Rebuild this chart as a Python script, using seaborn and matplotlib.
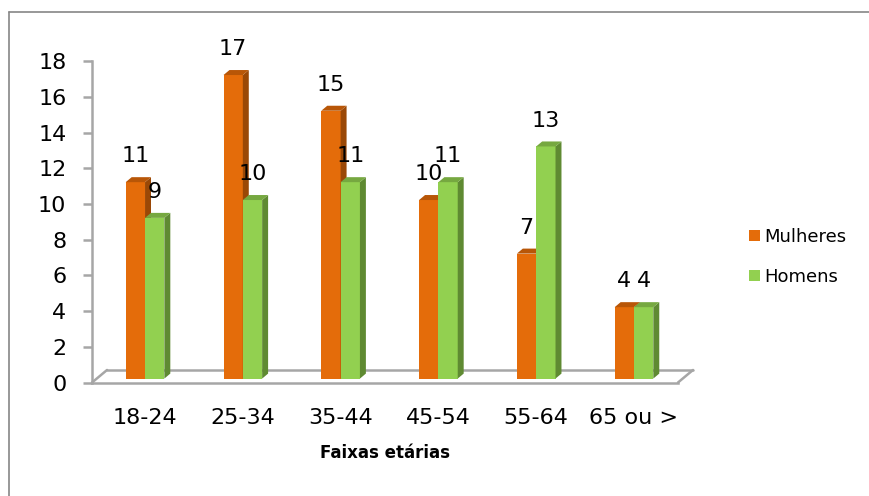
import matplotlib
matplotlib.use("Agg")
import matplotlib.pyplot as plt
from matplotlib.patches import Polygon
from matplotlib.lines import Line2D
import pandas as pd
import seaborn as sns

# === Data ===
age_groups = ["18-24", "25-34", "35-44", "45-54", "55-64", "65 ou >"]
mulheres = [11, 17, 15, 10, 7, 4]
homens = [9, 10, 11, 11, 13, 4]
series_names = ["Mulheres", "Homens"]
y_ticks = list(range(0, 19, 2))

# === Style ===
ORANGE = "#E46C0A"
GREEN = "#92D050"
SIDE = {0: "#9A4806", 1: "#5F8A32"}
TOP = {0: "#B85607", 1: "#76A840"}
AXIS_GRAY = "#A6A6A6"
LIFT = 0.22          # bars sit a little behind the front floor edge
DX, DY = 0.061, 0.28  # pseudo-3D depth of bars (data units)
FX, FY = 0.0256, 0.039  # floor depth (axes fraction)

df = pd.DataFrame({
    "faixa": age_groups * 2,
    "valor": mulheres + homens,
    "sexo": [series_names[0]] * len(age_groups) + [series_names[1]] * len(age_groups),
})

sns.set_theme(style="white")
plt.rcParams.update({
    "font.family": ["DejaVu Sans"],
    "text.color": "black",
    "axes.labelcolor": "black",
    "xtick.color": "black",
    "ytick.color": "black",
})

fig = plt.figure(figsize=(8.69, 4.96), dpi=100)
ax = fig.add_axes([0.1059, 0.2288, 0.6743, 0.648])

sns.barplot(
    data=df, x="faixa", y="valor", hue="sexo",
    palette=[ORANGE, GREEN], saturation=1, width=0.395, bottom=LIFT,
    linewidth=0, legend=False, ax=ax,
)

# fake 3D faces, derived from the drawn bars
for i, cont in enumerate(ax.containers):
    for p in cont.patches:
        p.set_zorder(2 + 0.2 * i)
        x0, w = p.get_x(), p.get_width()
        y0, h = p.get_y(), p.get_height()
        x1, top = x0 + w, y0 + h
        side = [(x1, y0), (x1 + DX, y0 + DY), (x1 + DX, top + DY), (x1, top)]
        cap = [(x0, top), (x0 + DX, top + DY), (x1 + DX, top + DY), (x1, top)]
        ax.add_patch(Polygon(side, closed=True, facecolor=SIDE[i], lw=0, zorder=2.1 + 0.2 * i))
        ax.add_patch(Polygon(cap, closed=True, facecolor=TOP[i], lw=0, zorder=2.1 + 0.2 * i))
        ax.annotate(f"{h:.0f}", (x0 + w / 2, top), xytext=(0, 18.5),
                    textcoords="offset points", ha="center", va="center",
                    fontsize=16, color="black", zorder=5)

ax.set_xlim(-0.542, 5.45)
ax.set_ylim(0, 18)
ax.set_yticks(y_ticks)

for s in ["top", "right"]:
    ax.spines[s].set_visible(False)
for s in ["left", "bottom"]:
    ax.spines[s].set_color(AXIS_GRAY)
    ax.spines[s].set_linewidth(1.8)

# floor back edges
floor_kw = dict(color=AXIS_GRAY, lw=1.8, transform=ax.transAxes, clip_on=False, zorder=1.5)
ax.plot([FX, 1 + FX], [FY, FY], **floor_kw)
ax.plot([0, FX], [0, FY], **floor_kw)
ax.plot([1, 1 + FX], [0, FY], **floor_kw)

ax.tick_params(axis="y", left=True, length=6.5, width=1.8, color=AXIS_GRAY,
               labelcolor="black", pad=12, labelsize=16)
ax.tick_params(axis="x", bottom=False, length=0, pad=18, labelsize=16,
               labelcolor="black")
ax.set_xlabel("Faixas etárias", fontsize=12, fontweight="bold", labelpad=12)
ax.set_ylabel("")

fig.legend(handles=ax.containers, labels=series_names, loc="center left",
           bbox_to_anchor=(0.862, 0.482), frameon=False, fontsize=13,
           handlelength=0.6, handleheight=0.6, handletextpad=0.25,
           labelspacing=1.2, borderaxespad=0, borderpad=0)

# chart border (top and left visible)
fig.add_artist(Line2D([9 / 869, 9 / 869], [0, 1 - 12 / 496], color="#868686", lw=1.2))
fig.add_artist(Line2D([9 / 869, 1], [1 - 12 / 496, 1 - 12 / 496], color="#868686", lw=1.2))

fig.savefig("out.png", dpi=100)
